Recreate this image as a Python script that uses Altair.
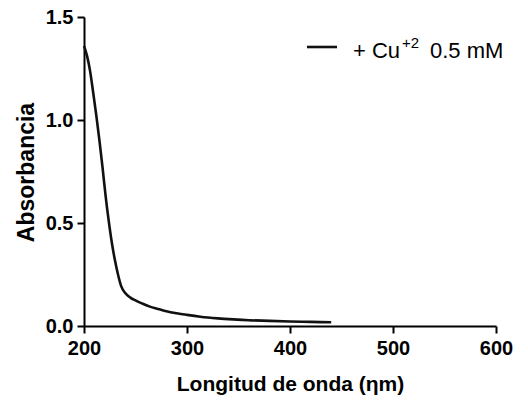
import altair as alt
import pandas as pd

# Data
wavelength = [200, 203, 206, 209, 212, 215, 218, 221, 224, 227, 230, 233, 236, 240, 245,
              250, 257, 264, 272, 280, 290, 300, 313, 330, 345, 360, 380, 400, 420, 440]
absorbance = [1.36, 1.31, 1.235, 1.13, 1.02, 0.90, 0.77, 0.63, 0.51, 0.405, 0.32, 0.25,
              0.195, 0.16, 0.138, 0.124, 0.108, 0.094, 0.083, 0.072, 0.062, 0.054, 0.045,
              0.037, 0.032, 0.028, 0.025, 0.022, 0.020, 0.018]
x_ticks = [200, 300, 400, 500, 600]
y_ticks = [0.0, 0.5, 1.0, 1.5]
legend_main = ["+ Cu"]
legend_sup = ["+2"]
legend_rest = ["0.5 mM"]

df = pd.DataFrame({"wl": wavelength, "abs": absorbance})

FONT = "Liberation Sans"

line = alt.Chart(df).mark_line(color="#111111", strokeWidth=2.6, interpolate="monotone").encode(
    x=alt.X("wl:Q",
            scale=alt.Scale(domain=[200, 600], nice=False, zero=False),
            axis=alt.Axis(values=x_ticks, format="d", title="Longitud de onda (ηm)",
                          titleY=64, titleBaseline="alphabetic", labelFlush=False,
                          labelPadding=5, tickSize=7)),
    y=alt.Y("abs:Q",
            scale=alt.Scale(domain=[0, 1.5], nice=False),
            axis=alt.Axis(values=y_ticks, format=".1f", title="Absorbancia",
                          titleX=-51, titleY=155, titleBaseline="alphabetic",
                          titleAngle=-90, titleAlign="center", labelFlush=False,
                          labelPadding=4, tickSize=7)),
)

leg_line = alt.Chart(pd.DataFrame({"k": [0]})).mark_rule(color="#111111", strokeWidth=2.6).encode(
    x=alt.value(223), x2=alt.value(253), y=alt.value(30)
)
leg_t1 = alt.Chart(pd.DataFrame({"t": legend_main})).mark_text(
    font=FONT, fontSize=22, align="left", baseline="alphabetic", color="black"
).encode(x=alt.value(269), y=alt.value(41), text="t:N")
leg_t2 = alt.Chart(pd.DataFrame({"t": legend_sup})).mark_text(
    font=FONT, fontSize=15, align="left", baseline="alphabetic", color="black"
).encode(x=alt.value(318), y=alt.value(31), text="t:N")
leg_t3 = alt.Chart(pd.DataFrame({"t": legend_rest})).mark_text(
    font=FONT, fontSize=22, align="left", baseline="alphabetic", color="black"
).encode(x=alt.value(346), y=alt.value(41), text="t:N")

chart = alt.layer(line, leg_line, leg_t1, leg_t2, leg_t3).properties(
    width=412, height=309,
    autosize=alt.AutoSizeParams(type="none"),
    padding={"left": 84, "top": 17, "right": 32, "bottom": 80},
    background="white",
).configure_view(stroke=None).configure_axis(
    domainColor="black", domainWidth=2, tickColor="black", tickWidth=2,
    grid=False, labelFont=FONT, labelFontSize=20, labelFontWeight="bold",
    labelColor="black", titleFont=FONT, titleFontWeight="bold", titleColor="black",
).configure_axisX(titleFontSize=21).configure_axisY(titleFontSize=23)

chart.save("out.html", embed_options={"renderer": "svg", "actions": False})
